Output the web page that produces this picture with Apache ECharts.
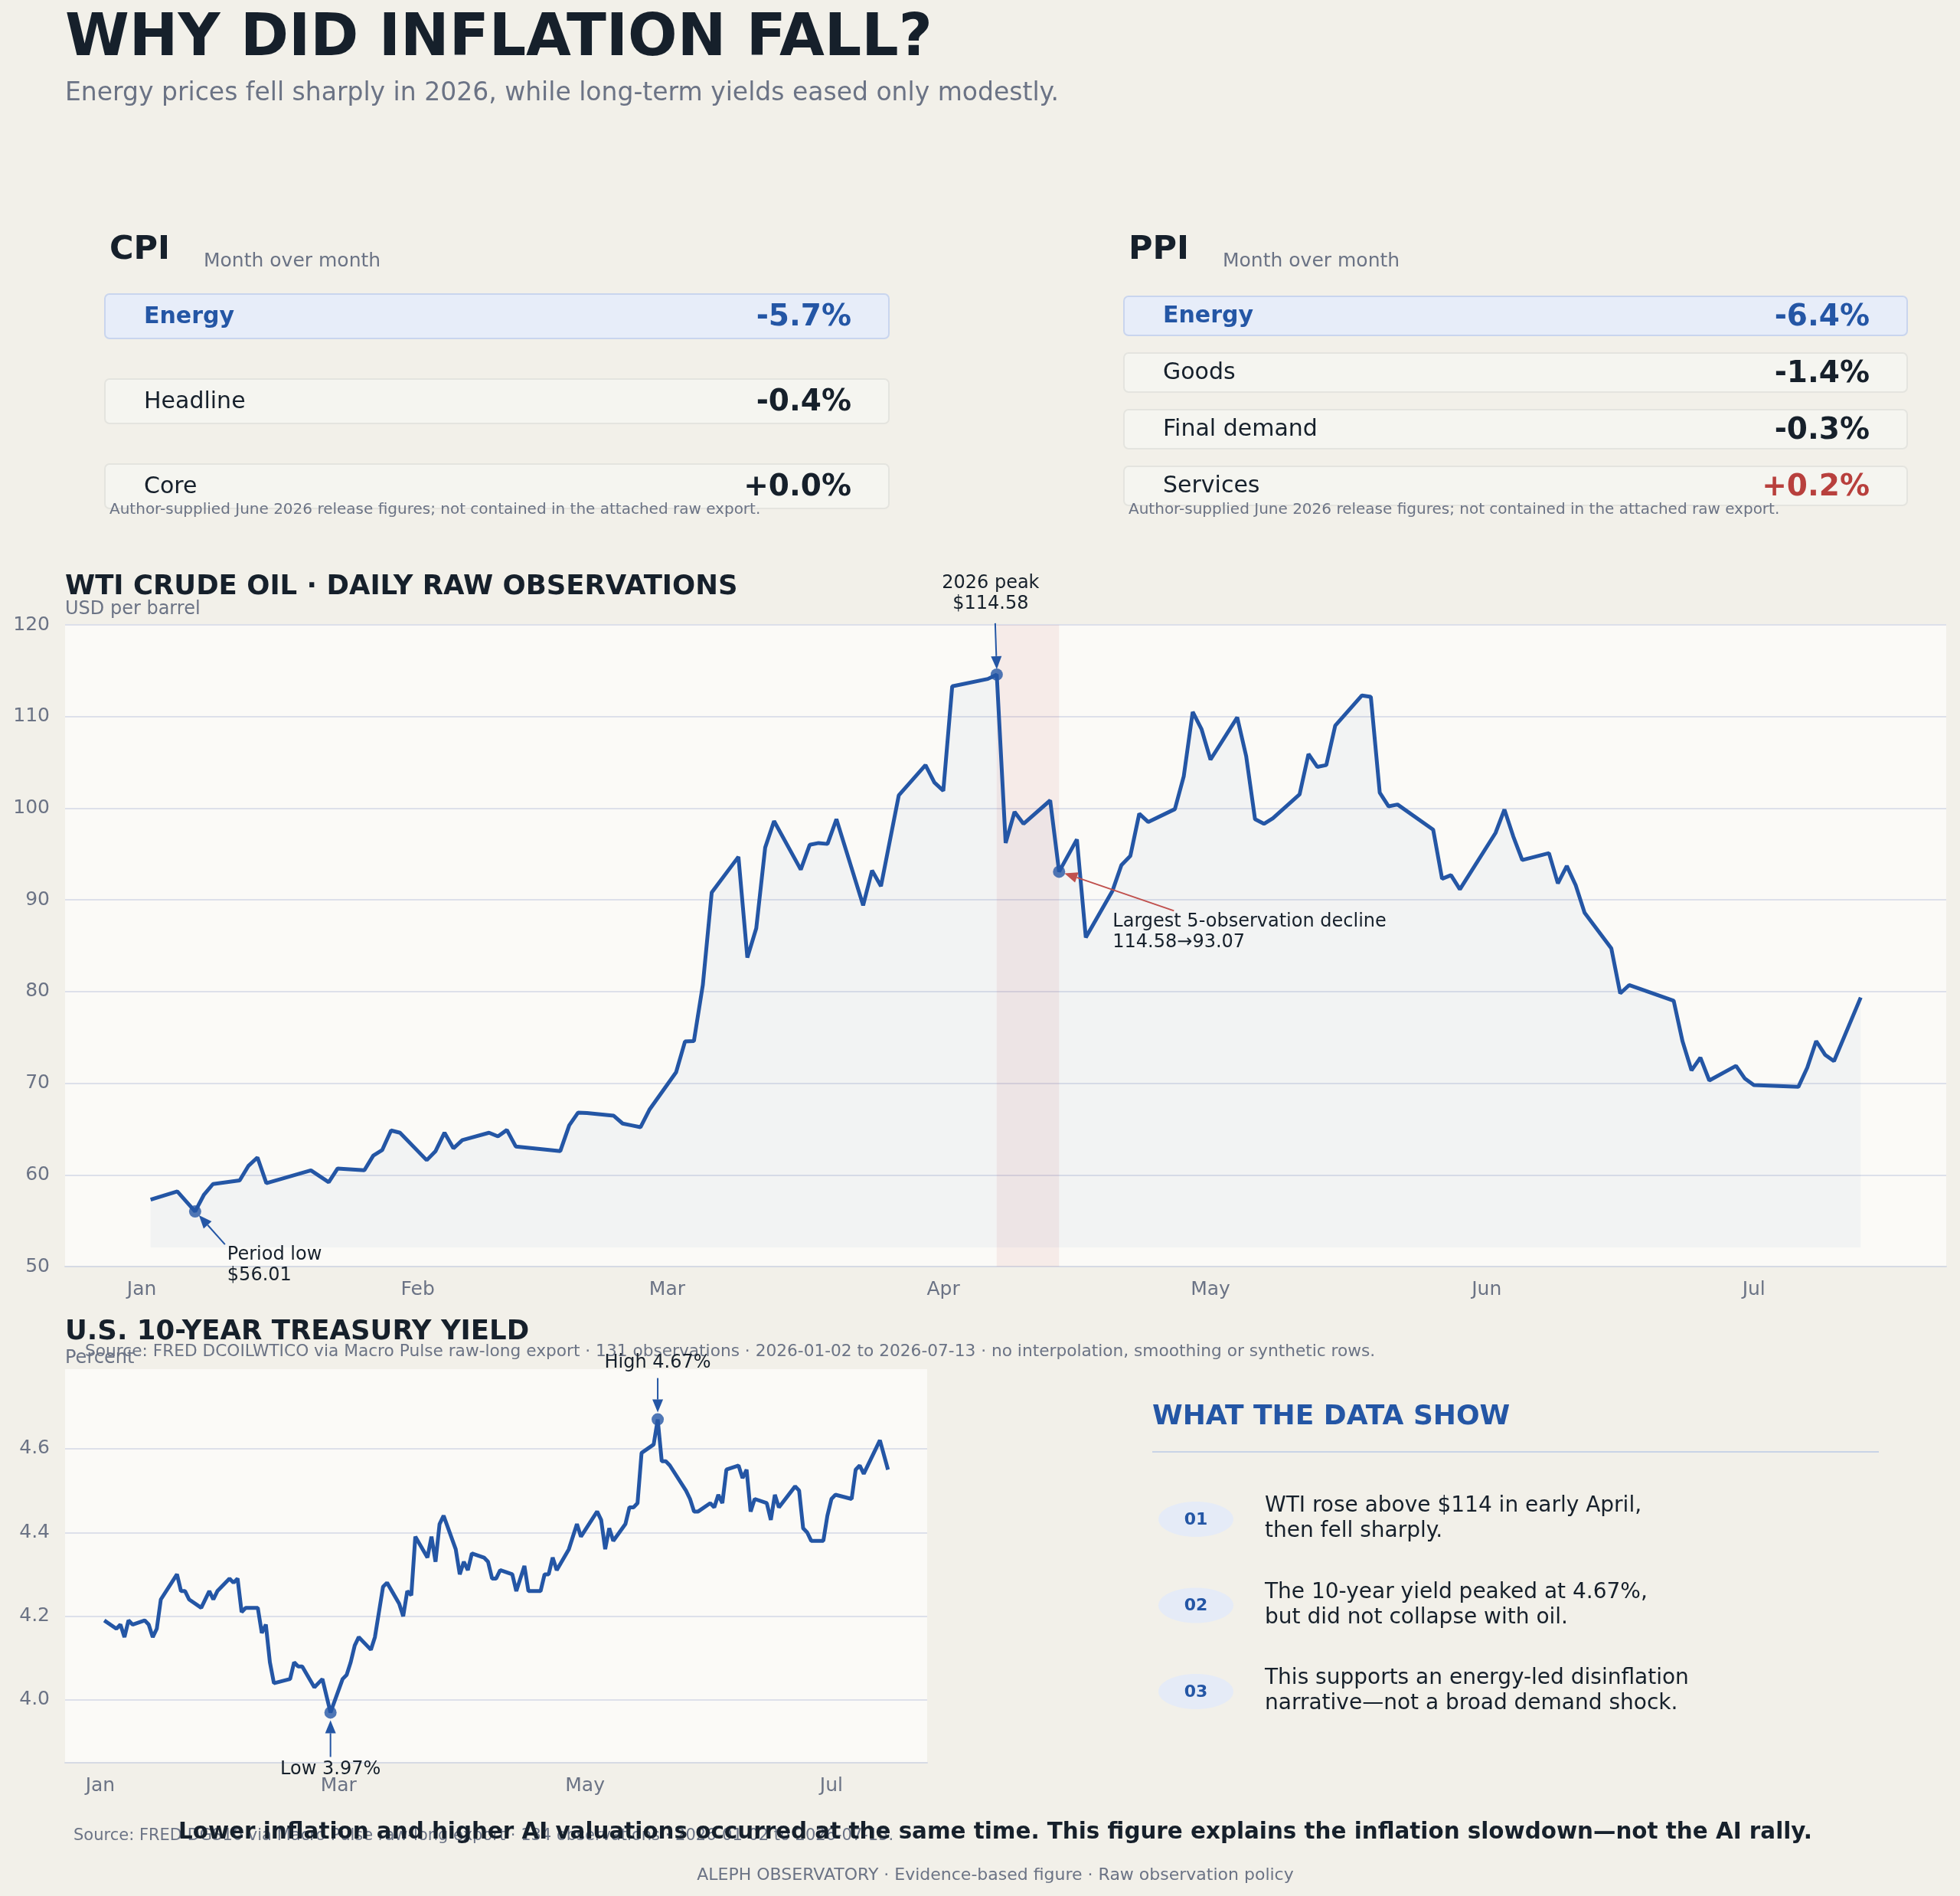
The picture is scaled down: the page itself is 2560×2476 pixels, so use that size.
<!DOCTYPE html>
<html>
<head>
<meta charset="utf-8">
<title>Why did inflation fall?</title>
<script src="https://cdn.jsdelivr.net/npm/echarts@6/dist/echarts.min.js"></script>
<style>
  html, body { margin: 0; padding: 0; background: #f2f0e9; }
  #chart { width: 2560px; height: 2476px; }
</style>
</head>
<body>
<div id="chart"></div>
<script>
// ---- data ----
const cpiLabels = ['Energy', 'Headline', 'Core'];
const cpiValues = [-5.7, -0.4, 0.0];
const ppiLabels = ['Energy', 'Goods', 'Final demand', 'Services'];
const ppiValues = [-6.4, -1.4, -0.3, 0.2];

const monthNames = ['Jan', 'Feb', 'Mar', 'Apr', 'May', 'Jun', 'Jul', 'Aug', 'Sep', 'Oct', 'Nov', 'Dec'];
const oilTicks = [50, 60, 70, 80, 90, 100, 110, 120];
const yieldTicks = [4.0, 4.2, 4.4, 4.6];

// WTI, USD per barrel (2026)
const oilDates = [
  '01-02','01-05','01-07','01-08','01-09','01-12','01-13','01-14','01-15','01-20',
  '01-22','01-23','01-26','01-27','01-28','01-29','01-30','02-02','02-03','02-04',
  '02-05','02-06','02-09','02-10','02-11','02-12','02-17','02-18','02-19','02-20',
  '02-23','02-24','02-25','02-26','02-27','03-02','03-03','03-04','03-05','03-06',
  '03-09','03-10','03-11','03-12','03-13','03-16','03-17','03-18','03-19','03-20',
  '03-23','03-24','03-25','03-27','03-30','03-31','04-01','04-02','04-06','04-07',
  '04-08','04-09','04-10','04-13','04-14','04-16','04-17','04-20','04-21','04-22',
  '04-23','04-24','04-27','04-28','04-29','04-30','05-01','05-04','05-05','05-06',
  '05-07','05-08','05-11','05-12','05-13','05-14','05-15','05-18','05-19','05-20',
  '05-21','05-22','05-26','05-27','05-28','05-29','06-02','06-03','06-04','06-05',
  '06-08','06-09','06-10','06-11','06-12','06-15','06-16','06-17','06-22','06-23',
  '06-24','06-25','06-26','06-29','06-30','07-01','07-06','07-07','07-08','07-09',
  '07-10','07-13'
];
const oilValues = [
  57.3, 58.2, 56.01, 57.85, 59.0, 59.4, 61.0, 61.9, 59.1, 60.5,
  59.2, 60.7, 60.5, 62.1, 62.7, 64.85, 64.6, 61.6, 62.6, 64.6,
  62.9, 63.8, 64.6, 64.2, 64.9, 63.1, 62.6, 65.4, 66.8, 66.75,
  66.45, 65.6, 65.4, 65.2, 67.1, 71.2, 74.55, 74.6, 80.7, 90.8,
  94.7, 83.7, 86.9, 95.7, 98.6, 93.3, 96.0, 96.2, 96.1, 98.8,
  89.4, 93.2, 91.5, 101.4, 104.7, 102.8, 101.9, 113.3, 114.1, 114.58,
  96.2, 99.6, 98.3, 100.85, 93.07, 96.6, 85.9, 91.0, 93.8, 94.8,
  99.4, 98.5, 99.9, 103.5, 110.5, 108.6, 105.3, 109.9, 105.7, 98.8,
  98.3, 98.9, 101.5, 105.9, 104.5, 104.7, 109.0, 112.3, 112.15, 101.7,
  100.2, 100.4, 97.65, 92.3, 92.7, 91.15, 97.3, 99.85, 96.9, 94.35,
  95.1, 91.8, 93.7, 91.6, 88.6, 84.7, 79.8, 80.7, 79.0, 74.55,
  71.4, 72.8, 70.3, 71.9, 70.5, 69.8, 69.6, 71.7, 74.6, 73.1,
  72.4, 79.35
];

// 10-year Treasury yield, percent (2026)
const yieldDates = [
  '01-02','01-05','01-06','01-07','01-08','01-09','01-12','01-13','01-14','01-15',
  '01-16','01-20','01-21','01-22','01-23','01-26','01-28','01-29','01-30','02-02',
  '02-03','02-04','02-05','02-06','02-09','02-10','02-11','02-12','02-13','02-17',
  '02-18','02-19','02-20','02-23','02-25','02-27','03-02','03-03','03-04','03-05',
  '03-06','03-09','03-10','03-12','03-13','03-16','03-17','03-18','03-19','03-20',
  '03-23','03-24','03-25','03-26','03-27','03-30','03-31','04-01','04-02','04-03',
  '04-06','04-07','04-08','04-09','04-10','04-13','04-14','04-16','04-17','04-20',
  '04-21','04-22','04-23','04-24','04-27','04-29','04-30','05-04','05-05','05-06',
  '05-07','05-08','05-11','05-12','05-13','05-14','05-15','05-18','05-19','05-20',
  '05-21','05-22','05-26','05-27','05-28','05-29','06-01','06-02','06-03','06-04',
  '06-05','06-08','06-09','06-10','06-11','06-12','06-15','06-16','06-17','06-18',
  '06-22','06-23','06-24','06-25','06-26','06-29','06-30','07-01','07-02','07-06',
  '07-07','07-08','07-09','07-13','07-15'
];
const yieldValues = [
  4.19, 4.17, 4.18, 4.15, 4.19, 4.18, 4.19, 4.18, 4.15, 4.17,
  4.24, 4.30, 4.26, 4.26, 4.24, 4.22, 4.26, 4.24, 4.26, 4.29,
  4.28, 4.29, 4.21, 4.22, 4.22, 4.16, 4.18, 4.09, 4.04, 4.05,
  4.09, 4.08, 4.08, 4.03, 4.05, 3.97, 4.05, 4.06, 4.09, 4.13,
  4.15, 4.12, 4.15, 4.27, 4.28, 4.23, 4.20, 4.26, 4.25, 4.39,
  4.34, 4.39, 4.33, 4.42, 4.44, 4.36, 4.30, 4.33, 4.31, 4.35,
  4.34, 4.33, 4.29, 4.29, 4.31, 4.30, 4.26, 4.32, 4.26, 4.26,
  4.30, 4.30, 4.34, 4.31, 4.36, 4.42, 4.39, 4.45, 4.43, 4.36,
  4.41, 4.38, 4.42, 4.46, 4.46, 4.47, 4.59, 4.61, 4.67, 4.57,
  4.57, 4.56, 4.50, 4.48, 4.45, 4.45, 4.47, 4.46, 4.49, 4.47,
  4.55, 4.56, 4.53, 4.55, 4.45, 4.48, 4.47, 4.43, 4.49, 4.46,
  4.51, 4.50, 4.41, 4.40, 4.38, 4.38, 4.44, 4.48, 4.49, 4.48,
  4.55, 4.56, 4.54, 4.62, 4.55
];

const notes = [
  ['WTI rose above $114 in early April,', 'then fell sharply.'],
  ['The 10-year yield peaked at 4.67%,', 'but did not collapse with oil.'],
  ['This supports an energy-led disinflation', 'narrative\u2014not a broad demand shock.']
];

// ---- look ----
const FONT = '"DejaVu Sans", "Liberation Sans", sans-serif';
const BLUE = '#2456a5';
const RED = '#b8403d';
const INK = '#16202b';
const MUTED = '#6b7385';
const GRIDLINE = '#dde0ea';
const PLOT_BG = '#fbfaf7';

const oilData = oilDates.map((d, i) => ['2026-' + d, oilValues[i]]);
const yieldData = yieldDates.map((d, i) => ['2026-' + d, yieldValues[i]]);

// largest drop over five observations
let dropStart = 0, dropSize = -Infinity;
for (let i = 0; i + 5 < oilValues.length; i++) {
  const d = oilValues[i] - oilValues[i + 5];
  if (d > dropSize) { dropSize = d; dropStart = i; }
}
const peakIdx = oilValues.indexOf(Math.max(...oilValues));
const lowIdx = oilValues.indexOf(Math.min(...oilValues));
const dropEnd = dropStart + 5;
const yHiIdx = yieldValues.indexOf(Math.max(...yieldValues));
const yLoIdx = yieldValues.indexOf(Math.min(...yieldValues));

function pct(v) { return (v > 0 ? '+' : v < 0 ? '-' : '+') + Math.abs(v).toFixed(1) + '%'; }
function font(size, bold) { return (bold ? 'bold ' : '') + size + 'px ' + FONT; }
function txt(x, y, s, size, fill, opt) {
  opt = opt || {};
  return {
    type: 'text', x: x, y: y, silent: true, z: 10,
    style: {
      text: s, font: font(size, opt.bold), fill: fill,
      textAlign: opt.align || 'left', align: opt.align || 'left',
      textVerticalAlign: 'middle', verticalAlign: 'middle',
      lineHeight: opt.lh || undefined
    }
  };
}
function arrow(from, to, color) {
  const dx = to[0] - from[0], dy = to[1] - from[1];
  const len = Math.hypot(dx, dy), ux = dx / len, uy = dy / len;
  const hl = 17, hw = 7;
  const bx = to[0] - ux * hl, by = to[1] - uy * hl;
  return [
    { type: 'line', silent: true, z: 10, shape: { x1: from[0], y1: from[1], x2: bx, y2: by },
      style: { stroke: color, lineWidth: 2 } },
    { type: 'polygon', silent: true, z: 10,
      shape: { points: [to, [bx - uy * hw, by + ux * hw], [bx + uy * hw, by - ux * hw]] },
      style: { fill: color } }
  ];
}

const chart = echarts.init(document.getElementById('chart'), null, { width: 2560, height: 2476 });

const timeAxis = (grid, step) => ({
  type: 'time', gridIndex: grid,
  min: v => v.min - (v.max - v.min) * 0.05,
  max: v => v.max + (v.max - v.min) * 0.05,
  minInterval: step * 86400000, maxInterval: step * 86400000,
  axisLine: { show: true, lineStyle: { color: '#d6dae4', width: 2 } },
  axisTick: { show: false },
  splitLine: { show: false },
  axisLabel: {
    formatter: v => monthNames[new Date(v).getMonth()],
    fontFamily: FONT, fontSize: 25, color: MUTED, margin: 18
  }
});

chart.setOption({
  animation: false,
  backgroundColor: '#f2f0e9',
  grid: [
    { left: 85, top: 816, width: 2457, height: 838, show: true, backgroundColor: PLOT_BG, borderWidth: 0 },
    { left: 85, top: 1788, width: 1126, height: 514, show: true, backgroundColor: PLOT_BG, borderWidth: 0 }
  ],
  xAxis: [timeAxis(0, 30), timeAxis(1, 61)],
  yAxis: [
    {
      type: 'value', gridIndex: 0,
      min: oilTicks[0], max: oilTicks[oilTicks.length - 1], interval: oilTicks[1] - oilTicks[0],
      axisLine: { show: false }, axisTick: { show: false },
      splitLine: { lineStyle: { color: GRIDLINE, width: 2 } },
      axisLabel: { fontFamily: FONT, fontSize: 25, color: MUTED, margin: 20 }
    },
    {
      type: 'value', gridIndex: 1,
      min: v => v.min - 0.12, max: v => v.max + 0.12,
      axisLine: { show: false }, axisTick: { show: false },
      splitLine: { show: false }, axisLabel: { show: false }
    }
  ],
  series: [
    {
      type: 'line', xAxisIndex: 0, yAxisIndex: 0, data: oilData, z: 3,
      showSymbol: false, lineStyle: { color: BLUE, width: 5 },
      areaStyle: { origin: Math.min(...oilValues) * 0.93, color: 'rgba(36,86,165,0.06)' },
      markArea: {
        silent: true,
        itemStyle: { color: 'rgba(192,80,77,0.085)' },
        data: [[{ xAxis: oilData[dropStart][0] }, { xAxis: oilData[dropEnd][0] }]]
      }
    },
    {
      type: 'scatter', xAxisIndex: 0, yAxisIndex: 0, z: 5, symbolSize: 16,
      itemStyle: { color: BLUE },
      data: [oilData[peakIdx], oilData[lowIdx], oilData[dropEnd]]
    },
    {
      type: 'line', xAxisIndex: 1, yAxisIndex: 1, data: yieldData, z: 3,
      showSymbol: false, lineStyle: { color: BLUE, width: 5 },
      markLine: {
        silent: true, symbol: 'none', z: 1,
        lineStyle: { type: 'solid', color: GRIDLINE, width: 2 },
        label: {
          position: 'start', distance: 20, fontFamily: FONT, fontSize: 25, color: MUTED,
          formatter: p => Number(p.value).toFixed(1)
        },
        data: yieldTicks.map(v => ({ yAxis: v }))
      }
    },
    {
      type: 'scatter', xAxisIndex: 1, yAxisIndex: 1, z: 5, symbolSize: 16,
      itemStyle: { color: BLUE },
      data: [yieldData[yHiIdx], yieldData[yLoIdx]]
    }
  ]
});

// ---- text, cards and annotations ----
const g = [];
g.push(txt(85, 52, 'WHY DID INFLATION FALL?', 76, INK, { bold: true }));
g.push(txt(85, 122, 'Energy prices fell sharply in 2026, while long-term yields eased only modestly.', 33, MUTED));

function panel(x0, x1, name, labels, values, top, cardH, step) {
  g.push(txt(x0 + 6, 327, name, 43, INK, { bold: true }));
  g.push(txt(x0 + 129, 341, 'Month over month', 25, MUTED));
  labels.forEach((lab, i) => {
    const y = top + i * step;
    const hi = i === 0;
    g.push({
      type: 'rect', silent: true, z: 5,
      shape: { x: x0, y: y, width: x1 - x0, height: cardH, r: 6 },
      style: { fill: hi ? '#e7edf9' : '#f5f5f0', stroke: hi ? '#c9d5ee' : '#e4e4df', lineWidth: 2 }
    });
    const v = values[i];
    const vc = hi ? BLUE : (v > 0 ? RED : INK);
    g.push(txt(x0 + 51, y + cardH / 2 + 1, lab, 30, hi ? BLUE : INK, { bold: hi }));
    g.push(txt(x1 - 49, y + cardH / 2 + 2, pct(v), 39, vc, { bold: true, align: 'right' }));
  });
  g.push(txt(x0 + 6, 666, 'Author-supplied June 2026 release figures; not contained in the attached raw export.', 20, MUTED));
}
panel(137, 1161, 'CPI', cpiLabels, cpiValues, 384, 58, 111);
panel(1468, 2491, 'PPI', ppiLabels, ppiValues, 387, 51, 74);

g.push(txt(85, 767, 'WTI CRUDE OIL \u00b7 DAILY RAW OBSERVATIONS', 35.5, INK, { bold: true }));
g.push(txt(85, 796, 'USD per barrel', 24, MUTED));
g.push(txt(111, 1765, 'Source: FRED DCOILWTICO via Macro Pulse raw-long export \u00b7 131 observations \u00b7 2026-01-02 to 2026-07-13 \u00b7 no interpolation, smoothing or synthetic rows.', 21.7, MUTED));
g.push(txt(85, 1740, 'U.S. 10-YEAR TREASURY YIELD', 35.5, INK, { bold: true }));
g.push(txt(85, 1774, 'Percent', 24, MUTED));

// oil annotations
const pPeak = chart.convertToPixel({ xAxisIndex: 0, yAxisIndex: 0 }, oilData[peakIdx]);
const pLow = chart.convertToPixel({ xAxisIndex: 0, yAxisIndex: 0 }, oilData[lowIdx]);
const pDrop = chart.convertToPixel({ xAxisIndex: 0, yAxisIndex: 0 }, oilData[dropEnd]);
g.push(txt(pPeak[0] - 8, pPeak[1] - 106, '2026 peak\n$' + oilValues[peakIdx].toFixed(2), 24, INK, { align: 'center', lh: 27 }));
g.push(...arrow([pPeak[0] - 2, pPeak[1] - 67], [pPeak[0], pPeak[1] - 7], BLUE));
g.push(txt(pLow[0] + 42, pLow[1] + 70, 'Period low\n$' + oilValues[lowIdx].toFixed(2), 24, INK, { lh: 27 }));
g.push(...arrow([pLow[0] + 39, pLow[1] + 43], [pLow[0] + 5, pLow[1] + 5], BLUE));
g.push(txt(pDrop[0] + 70, pDrop[1] + 79, 'Largest 5-observation decline\n' + oilValues[dropStart].toFixed(2) + '\u2192' + oilValues[dropEnd].toFixed(2), 24, INK, { lh: 27 }));
g.push(...arrow([pDrop[0] + 150, pDrop[1] + 51], [pDrop[0] + 7, pDrop[1] + 2], '#c0504d'));

// yield annotations
const pHi = chart.convertToPixel({ xAxisIndex: 1, yAxisIndex: 1 }, yieldData[yHiIdx]);
const pLo = chart.convertToPixel({ xAxisIndex: 1, yAxisIndex: 1 }, yieldData[yLoIdx]);
g.push(txt(pHi[0], pHi[1] - 74, 'High ' + yieldValues[yHiIdx].toFixed(2) + '%', 24, INK, { align: 'center' }));
g.push(...arrow([pHi[0], pHi[1] - 54], [pHi[0], pHi[1] - 9], BLUE));
g.push(txt(pLo[0], pLo[1] + 74, 'Low ' + yieldValues[yLoIdx].toFixed(2) + '%', 24, INK, { align: 'center' }));
g.push(...arrow([pLo[0], pLo[1] + 58], [pLo[0], pLo[1] + 10], BLUE));

// what the data show
g.push(txt(1505, 1851, 'WHAT THE DATA SHOW', 36, BLUE, { bold: true }));
g.push({ type: 'line', silent: true, shape: { x1: 1505, y1: 1896, x2: 2454, y2: 1896 },
  style: { stroke: '#c9d3e6', lineWidth: 2 } });
notes.forEach((lines, i) => {
  const cy = 1984 + i * 112.5;
  g.push({ type: 'ellipse', silent: true, shape: { cx: 1562, cy: cy, rx: 49, ry: 23 },
    style: { fill: '#e5ebf7' } });
  g.push(txt(1562, cy + 1, String(i + 1).padStart(2, '0'), 22, BLUE, { bold: true, align: 'center' }));
  g.push(txt(1652, cy - 17, lines[0], 28, INK));
  g.push(txt(1652, cy + 16, lines[1], 28, INK));
});

g.push(txt(96, 2398, 'Source: FRED DGS10 via Macro Pulse raw-long export \u00b7 134 observations \u00b7 2026-01-02 to 2026-07-15.', 21, MUTED));
g.push(txt(1300, 2393, 'Lower inflation and higher AI valuations occurred at the same time. This figure explains the inflation slowdown\u2014not the AI rally.', 29.4, INK, { bold: true, align: 'center' }));
g.push(txt(1300, 2449, 'ALEPH OBSERVATORY \u00b7 Evidence-based figure \u00b7 Raw observation policy', 22, MUTED, { align: 'center' }));

chart.setOption({ graphic: g });
</script>
</body>
</html>
